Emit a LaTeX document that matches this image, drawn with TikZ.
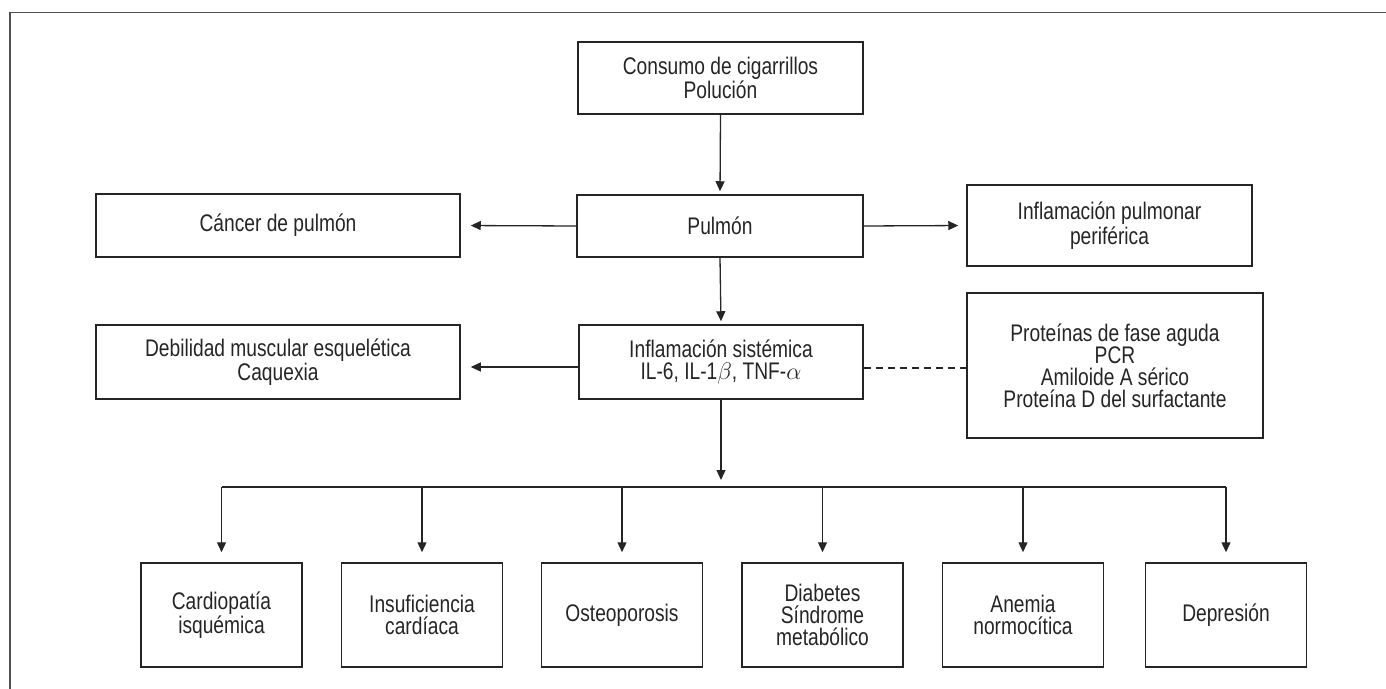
\documentclass[tikz,border=0pt]{standalone}
\usepackage{fontspec}
\setmainfont{Liberation Sans}[FakeStretch=0.8]
\usetikzlibrary{arrows.meta,positioning,calc}
\definecolor{ink}{HTML}{252525}
\definecolor{framegray}{HTML}{505050}
\tikzset{
  box/.style={draw=ink, line width=0.75pt, text=ink, align=center, inner sep=2pt,
    font=\fontsize{12}{11}\selectfont},
  smallbox/.style={box, minimum width=80.5pt, minimum height=52pt},
  arr/.style={draw=ink, line width=0.65pt, -{Triangle[length=5pt,width=4.5pt]}},
  link/.style={draw=ink, line width=0.65pt},
}

\begin{document}
\begin{tikzpicture}[x=0.5pt,y=-0.5pt]
  \useasboundingbox (0,0) rectangle (1386,689);
  \draw[framegray, line width=0.8pt] (1386,12.5) -- (10,12.5) -- (10,689);

  \node[box, minimum width=142.5pt, minimum height=36pt] (smoke) at (720.5,78) {Consumo de cigarrillos\\Polución};
  \node[box, minimum width=143pt, minimum height=31pt] (pulmon) at (720,226) {Pulmón};
  \node[box, minimum width=182pt, minimum height=31.5pt] (cancer) at (278,225.5) {Cáncer de pulmón};
  \node[box, minimum width=142.5pt, minimum height=40.5pt] (periph) at (1109.5,225.5) {Inflamación pulmonar\\periférica};
  \node[box, minimum width=142pt, minimum height=37pt] (sist) at (721,362) {Inflamación sistémica\\IL-6, IL-1$\beta$, TNF-$\alpha$};
  \node[box, minimum width=182pt, minimum height=37pt] (debil) at (278,362) {Debilidad muscular esquelética\\Caquexia};
  \node[box, minimum width=148pt, minimum height=72.5pt] (prot) at (1115,365.5) {Proteínas de fase aguda\\PCR\\Amiloide A sérico\\Proteína D del surfactante};

  \foreach \n/\x/\t in {cardio/221.5/{Cardiopatía\\isquémica}, insuf/422/{Insuficiencia\\cardíaca},
      osteo/622/{Osteoporosis}, diab/822.5/{Diabetes\\Síndrome\\metabólico},
      anem/1023/{Anemia\\normocítica}, depre/1226/{Depresión}}
    \node[smallbox] (\n) at (\x,615) {\t};

  \draw[arr, shorten >=1.5pt] (smoke.south) -- (pulmon.north);
  \draw[arr, shorten >=1.5pt] (pulmon.south) -- (sist.north);
  \draw[arr, shorten >=5pt] (pulmon.west) -- (cancer.east);
  \draw[arr, shorten >=4pt] (pulmon.east) -- (periph.west);
  \draw[arr, shorten >=5pt] ([yshift=-2.5pt]sist.west) -- ([yshift=-2.5pt]sist.west -| debil.east);
  \draw[link, dash pattern=on 3.5pt off 2.5pt] ([yshift=-3pt]sist.east) -- ([yshift=-3pt]sist.east -| prot.west);

  \coordinate (bus) at (721,487);
  \draw[arr, shorten >=3.5pt] (sist.south) -- (bus);
  \draw[link] (cardio.north |- bus) -- (depre.north |- bus);
  \foreach \n in {cardio,insuf,osteo,diab,anem,depre}
    \draw[arr, shorten >=5pt] (\n.north |- bus) -- (\n.north);
\end{tikzpicture}
\end{document}
